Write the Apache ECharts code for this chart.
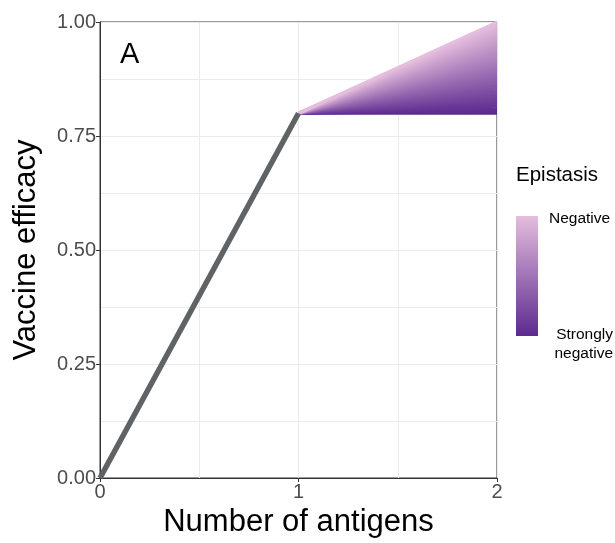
<!DOCTYPE html>
<html>
<head>
<meta charset="utf-8">
<script src="https://cdn.jsdelivr.net/npm/echarts@6/dist/echarts.min.js"></script>
<style>html,body{margin:0;padding:0;background:#fff}#c{width:615px;height:543px}</style>
</head>
<body>
<div id="c"></div>
<script>
// Data
var baseX = [0, 1];
var baseY = [0, 0.8];
var fanX = [1, 2];
var fanStartY = 0.8;
var fanEndY = [0.800, 0.805, 0.810, 0.815, 0.820, 0.825, 0.830, 0.835, 0.840, 0.845,
               0.850, 0.855, 0.860, 0.865, 0.870, 0.875, 0.880, 0.885, 0.890, 0.895,
               0.900, 0.905, 0.910, 0.915, 0.920, 0.925, 0.930, 0.935, 0.940, 0.945,
               0.950, 0.955, 0.960, 0.965, 0.970, 0.975, 0.980, 0.985, 0.990, 0.995, 1.000];
var xTicks = ['0', '1', '2'];
var yTicks = ['0.00', '0.25', '0.50', '0.75', '1.00'];

var darkC = [91, 42, 143];
var lightC = [229, 189, 221];
function mix(t) {
  var c = darkC.map(function (d, i) { return Math.round(d + (lightC[i] - d) * t); });
  return 'rgb(' + c.join(',') + ')';
}

var series = [];
fanEndY.forEach(function (ye) {
  var t = (ye - 0.8) / 0.2;
  series.push({
    type: 'line', symbol: 'none', silent: true,
    data: [[fanX[0], fanStartY], [fanX[1], ye]],
    lineStyle: { color: mix(t), width: 3 }, z: 2
  });
});
series.push({
  type: 'line', symbol: 'none', silent: true,
  data: baseX.map(function (x, i) { return [x, baseY[i]]; }),
  lineStyle: { color: '#606366', width: 5.5 }, z: 3
});

var chart = echarts.init(document.getElementById('c'), null, { renderer: 'canvas' });
var font = 'Liberation Sans, Arial, Helvetica, sans-serif';
chart.setOption({
  animation: false,
  grid: { left: 100, top: 22, right: 118, bottom: 65, outerBoundsMode: 'none', containLabel: false,
          show: true, borderColor: '#333', borderWidth: 1, backgroundColor: 'transparent' },
  xAxis: {
    type: 'value', min: 0, max: 2, interval: 1,
    name: 'Number of antigens', nameLocation: 'middle', nameGap: 29,
    nameTextStyle: { fontSize: 31, color: '#000', fontFamily: font },
    axisLine: { show: true, onZero: false, lineStyle: { color: '#333', width: 1 } },
    axisTick: { show: true, length: 4, lineStyle: { color: '#333' } },
    axisLabel: { fontSize: 20, color: '#4d4d4d', fontFamily: font, margin: 4,
      formatter: function (v) { return xTicks[Math.round(v)]; } },
    splitLine: { show: true, lineStyle: { color: '#ebebeb', width: 1 } },
    minorTick: { show: false, splitNumber: 2 },
    minorSplitLine: { show: true, lineStyle: { color: '#ebebeb', width: 1 } }
  },
  yAxis: {
    type: 'value', min: 0, max: 1, interval: 0.25,
    name: 'Vaccine efficacy', nameLocation: 'middle', nameGap: 58,
    nameTextStyle: { fontSize: 31, color: '#000', fontFamily: font },
    axisLine: { show: true, onZero: false, lineStyle: { color: '#333', width: 1 } },
    axisTick: { show: true, length: 4, lineStyle: { color: '#333' } },
    axisLabel: { fontSize: 20, color: '#4d4d4d', fontFamily: font, margin: 4,
      formatter: function (v) { return yTicks[Math.round(v / 0.25)]; } },
    splitLine: { show: true, lineStyle: { color: '#ebebeb', width: 1 } },
    minorTick: { show: false, splitNumber: 2 },
    minorSplitLine: { show: true, lineStyle: { color: '#ebebeb', width: 1 } }
  },
  series: series,
  graphic: [
    { type: 'text', x: 120, y: 55, style: { text: 'A', fontSize: 29, fill: '#000', fontFamily: font, verticalAlign: 'middle' } },
    { type: 'text', x: 516, y: 175, style: { text: 'Epistasis', fontSize: 20.5, fill: '#000', fontFamily: font, verticalAlign: 'middle' } },
    { type: 'rect', shape: { x: 516, y: 216, width: 22, height: 120 },
      style: { fill: new echarts.graphic.LinearGradient(0, 0, 0, 1, [
        { offset: 0, color: mix(1) }, { offset: 1, color: mix(0) }]) } },
    { type: 'text', x: 549, y: 219, style: { text: 'Negative', fontSize: 15.5, fill: '#000', fontFamily: font, align: 'left', verticalAlign: 'middle' } },
    { type: 'text', x: 613, y: 335, style: { text: 'Strongly', fontSize: 15.5, fill: '#000', fontFamily: font, align: 'right', verticalAlign: 'middle' } },
    { type: 'text', x: 613, y: 354, style: { text: 'negative', fontSize: 15.5, fill: '#000', fontFamily: font, align: 'right', verticalAlign: 'middle' } }
  ]
});
</script>
</body>
</html>
